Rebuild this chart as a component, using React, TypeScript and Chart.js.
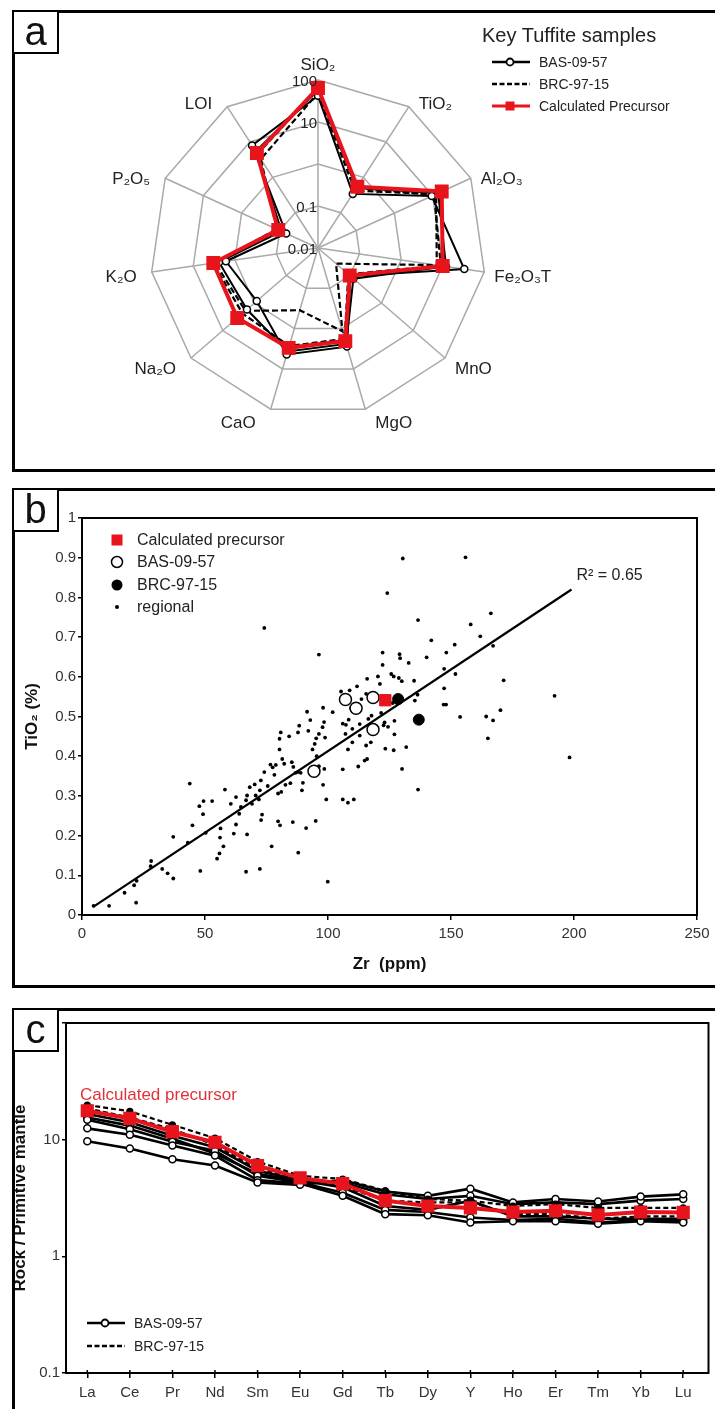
import React, { useEffect, useRef } from "react";
import { Chart, registerables } from "chart.js";
Chart.register(...registerables);

const FONT = "'Liberation Sans', Arial, Helvetica, sans-serif";
Chart.defaults.font.family = FONT;

// ---------- Panel a: radar (wt%, log scale) ----------
const oxides = ["SiO₂", "TiO₂", "Al₂O₃", "Fe₂O₃T", "MnO", "MgO", "CaO", "Na₂O", "K₂O", "P₂O₅", "LOI"];
const radarTicks = [0.01, 0.1, 1, 10, 100];
const radarTickLabels = ["0.01", "0.1", "", "10", "100"];
const precursorOxides = [64.5, 0.54, 17.3, 10, 0.1, 2.04, 3.0, 3.5, 3.3, 0.11, 4.9];
const bas1Oxides = [42, 0.34, 9.5, 33, 0.105, 2.8, 4.4, 0.85, 1.64, 0.068, 8.0];
const bas2Oxides = [56, 0.5, 14, 12, 0.13, 2.4, 3.7, 1.73, 2.4, 0.09, 5.5];
const brc1Oxides = [49, 0.42, 12.4, 7.2, 0.037, 1.17, 0.35, 1.93, 3.0, 0.12, 3.3];
const brc2Oxides = [64, 0.5, 11, 9, 0.09, 1.8, 2.7, 2.4, 3.3, 0.1, 4.6];

// ---------- Panel b: TiO2 vs Zr ----------
const regionalZr = [74.1, 96.3, 130.4, 155.9, 124.1, 136.6, 158, 142, 161.9, 166.2, 151.5, 167.1, 140.1, 122.2, 129.1, 129.3, 132.8, 147.2, 148.1, 151.8, 147.2, 171.4, 192.1, 198.2, 153.7, 164.3, 167.1, 170.1, 165, 147, 148, 136.4, 135.3, 135, 130, 128.8, 126.7, 125.7, 122.2, 115.9, 120.3, 121.1, 111.8, 108.8, 105.3, 121.6, 126.3, 127, 123, 124.4, 122.6, 127, 123.3, 126.7, 131.8, 130.1, 136.6, 117.4, 115.5, 114.9, 115.9, 112.3, 110.5, 108.1, 106, 106, 108.1, 109.9, 112.9, 112.9, 107.3, 106, 108.4, 109.9, 107.1, 109.4, 113.6, 115.5, 116.4, 117.7, 101.9, 98, 98.4, 97.8, 96.3, 98.8, 95.2, 94.6, 93.7, 95.4, 96.3, 98.5, 98, 99.3, 99.9, 95, 91.1, 87.9, 91.5, 92.8, 92, 88.3, 87.8, 84.2, 80.8, 80.3, 80.3, 81.4, 85.3, 82.2, 78.8, 76.6, 77.5, 78.2, 74.1, 72.7, 70.2, 68.2, 75.5, 79.7, 81, 82.7, 84.7, 89.8, 88.9, 86.8, 85.9, 87.7, 72.3, 70.6, 67.1, 66.7, 69.1, 71.9, 73.2, 72.8, 77.1, 72.3, 66.7, 67.1, 61.7, 62.6, 62.6, 58.1, 60.5, 56.3, 56.1, 57.5, 55.9, 54.9, 50.3, 49.4, 52.9, 47.7, 49.2, 43.8, 44.9, 48.1, 43, 37.1, 37.1, 34.8, 32.6, 28.1, 27.9, 22.2, 21.2, 17.3, 11, 4.7, 22, 63.9, 64.6, 79.7, 80.5, 85.7, 89.4];
const regionalTi = [0.723, 0.656, 0.898, 0.901, 0.811, 0.743, 0.732, 0.692, 0.702, 0.76, 0.681, 0.678, 0.649, 0.661, 0.657, 0.647, 0.635, 0.62, 0.661, 0.607, 0.571, 0.591, 0.552, 0.397, 0.499, 0.5, 0.49, 0.516, 0.445, 0.53, 0.53, 0.555, 0.54, 0.59, 0.589, 0.597, 0.601, 0.607, 0.63, 0.595, 0.601, 0.582, 0.576, 0.566, 0.563, 0.509, 0.534, 0.489, 0.485, 0.474, 0.478, 0.455, 0.419, 0.415, 0.423, 0.368, 0.316, 0.435, 0.427, 0.389, 0.393, 0.374, 0.291, 0.283, 0.291, 0.367, 0.417, 0.435, 0.452, 0.481, 0.479, 0.482, 0.492, 0.469, 0.456, 0.521, 0.544, 0.557, 0.494, 0.502, 0.511, 0.522, 0.486, 0.473, 0.456, 0.447, 0.445, 0.431, 0.417, 0.4, 0.375, 0.368, 0.328, 0.291, 0.084, 0.237, 0.219, 0.157, 0.512, 0.491, 0.464, 0.477, 0.46, 0.45, 0.46, 0.444, 0.417, 0.393, 0.385, 0.381, 0.378, 0.379, 0.372, 0.353, 0.36, 0.339, 0.329, 0.322, 0.325, 0.306, 0.31, 0.328, 0.332, 0.333, 0.358, 0.358, 0.373, 0.36, 0.314, 0.301, 0.301, 0.289, 0.28, 0.291, 0.253, 0.239, 0.173, 0.116, 0.109, 0.203, 0.205, 0.228, 0.297, 0.316, 0.28, 0.218, 0.195, 0.173, 0.155, 0.142, 0.207, 0.287, 0.287, 0.274, 0.254, 0.331, 0.226, 0.111, 0.182, 0.197, 0.092, 0.105, 0.116, 0.136, 0.123, 0.086, 0.075, 0.056, 0.023, 0.023, 0.031, 0.255, 0.272, 0.236, 0.226, 0.234, 0.314];
const basZr = [107.1, 111.4, 118.3, 118.3, 94.3];
const basTi = [0.543, 0.521, 0.548, 0.467, 0.362];
const brcZr = [128.5, 136.9];
const brcTi = [0.544, 0.492];
const precZr = [123.3];
const precTi = [0.541];
const trendZr = [4.7, 199];
const trendTi = [0.021, 0.82];
const zrTicks = [0, 50, 100, 150, 200, 250];
const tiTickLabels = ["0", "0.1", "0.2", "0.3", "0.4", "0.5", "0.6", "0.7", "0.8", "0.9", "1"];

// ---------- Panel c: REE spider ----------
const ree = ["La", "Ce", "Pr", "Nd", "Sm", "Eu", "Gd", "Tb", "Dy", "Y", "Ho", "Er", "Tm", "Yb", "Lu"];
const reeTicks = [0.1, 1, 10, 100];
const basA = [9.7, 8.4, 6.8, 6.0, 4.3, 4.1, 4.5, 3.6, 3.3, 3.8, 2.9, 3.1, 2.95, 3.25, 3.4];
const basB = [12.5, 11.0, 8.9, 7.3, 4.5, 4.2, 3.3, 2.3, 2.25, 1.95, 2.0, 2.0, 1.9, 2.0, 1.95];
const basC = [14.8, 12.3, 9.6, 8.05, 4.9, 4.3, 3.5, 2.5, 2.4, 2.15, 2.05, 2.1, 1.95, 2.05, 2.0];
const basD = [16.6, 14.1, 10.8, 8.6, 5.4, 4.5, 3.9, 2.7, 2.5, 3.0, 2.2, 2.2, 2.1, 2.1, 2.1];
const basE = [15.5, 13.2, 10.2, 7.6, 5.1, 4.4, 4.3, 3.4, 3.1, 3.3, 2.8, 2.9, 2.8, 3.0, 3.1];
const brcA = [19.8, 17.5, 13.4, 10.3, 6.5, 4.9, 4.6, 3.65, 3.1, 3.0, 2.7, 2.8, 2.6, 2.6, 2.6];
const brcB = [18.5, 15.5, 12.3, 9.0, 5.6, 4.6, 4.0, 3.0, 2.9, 2.9, 2.3, 2.3, 2.1, 2.2, 2.2];
const precREE = [17.7, 15.2, 11.7, 9.5, 6.0, 4.7, 4.2, 3.0, 2.7, 2.6, 2.4, 2.46, 2.26, 2.4, 2.38];

const RED = "#e8141b";
const GRID = "#a9a9a9";

const radarLabelsPlugin = {
  id: "radarLabels",
  afterDraw(chart: any) {
    const s = chart.scales.r;
    const ctx = chart.ctx;
    ctx.save();
    ctx.fillStyle = "#222";
    ctx.font = `17px ${FONT}`;
    oxides.forEach((lab, i) => {
      const p = s.getPointPosition(i, s.drawingArea);
      const ang = s.getIndexAngle(i);
      const sn = Math.sin(ang);
      const cs = Math.cos(ang);
      if (Math.abs(sn) < 0.05) {
        ctx.textAlign = "center";
        ctx.textBaseline = "bottom";
        ctx.fillText(lab, p.x, p.y - 6);
      } else {
        ctx.textAlign = sn > 0 ? "left" : "right";
        ctx.textBaseline = "middle";
        const dy = cs > 0 ? 4 - 7 * cs : 4 - 11 * cs;
        ctx.fillText(lab, p.x + (sn > 0 ? 10 : -15), p.y + dy);
      }
    });
    ctx.font = `15px ${FONT}`;
    ctx.textAlign = "right";
    ctx.textBaseline = "middle";
    radarTicks.forEach((t, i) => {
      const lab = radarTickLabels[i];
      if (!lab) return;
      const d = s.getDistanceFromCenterForValue(Math.log10(t));
      ctx.fillText(lab, s.xCenter - 1, s.yCenter - d + 2);
    });
    ctx.restore();
  },
};

const frameBPlugin = {
  id: "frameB",
  afterDraw(chart: any) {
    const { ctx, chartArea: a, scales } = chart;
    ctx.save();
    ctx.strokeStyle = "#000";
    ctx.lineWidth = 2;
    ctx.strokeRect(a.left, a.top, a.right - a.left, a.bottom - a.top);
    ctx.fillStyle = "#222";
    ctx.font = `16px ${FONT}`;
    ctx.textAlign = "left";
    ctx.textBaseline = "middle";
    ctx.fillText("R² = 0.65", scales.x.getPixelForValue(201), scales.y.getPixelForValue(0.854));
    ctx.restore();
  },
};

const frameCPlugin = {
  id: "frameC",
  afterDraw(chart: any) {
    const { ctx, chartArea: a, scales } = chart;
    ctx.save();
    ctx.strokeStyle = "#000";
    ctx.lineWidth = 2;
    ctx.strokeRect(a.left, a.top, a.right - a.left + 4, a.bottom - a.top);
    ctx.lineWidth = 1.5;
    ree.forEach((_, i) => {
      const x = scales.x.getPixelForValue(i);
      ctx.beginPath();
      ctx.moveTo(x, a.bottom - 3);
      ctx.lineTo(x, a.bottom);
      ctx.stroke();
    });
    ctx.restore();
  },
};

function useChart(ref: React.RefObject<HTMLCanvasElement>, make: () => any) {
  useEffect(() => {
    if (!ref.current) return;
    const c = new Chart(ref.current, make());
    return () => c.destroy();
  }, []);
}

function RadarChart() {
  const ref = useRef<HTMLCanvasElement>(null);
  useChart(ref, () => {
    const basStyle = {
      borderColor: "#000",
      borderWidth: 2,
      pointRadius: 3.5,
      pointBackgroundColor: "#fff",
      pointBorderColor: "#000",
      pointBorderWidth: 1.5,
      fill: false,
    };
    const brcStyle = { borderColor: "#000", borderWidth: 2.2, borderDash: [6, 3], pointRadius: 0, fill: false };
    return {
      type: "radar",
      data: {
        labels: oxides,
        datasets: [
          {
            label: "Calculated Precursor",
            data: precursorOxides.map(Math.log10),
            borderColor: RED,
            borderWidth: 4,
            pointStyle: "rect",
            pointRadius: 7,
            pointBackgroundColor: RED,
            pointBorderColor: RED,
            fill: false,
          },
          { label: "BAS-09-57", data: bas1Oxides.map(Math.log10), ...basStyle },
          { label: "BAS-09-57 b", data: bas2Oxides.map(Math.log10), ...basStyle },
          { label: "BRC-97-15", data: brc1Oxides.map(Math.log10), ...brcStyle },
          { label: "BRC-97-15 b", data: brc2Oxides.map(Math.log10), ...brcStyle },
        ],
      },
      options: {
        animation: false,
        responsive: false,
        layout: { padding: { left: 150, top: 80, right: 229, bottom: 54 } },
        elements: { line: { tension: 0, borderJoinStyle: "miter" } },
        plugins: { legend: { display: false }, tooltip: { enabled: false } },
        scales: {
          r: {
            min: -2,
            max: 2,
            ticks: { display: false },
            afterBuildTicks: (s: any) => {
              s.ticks = radarTicks.map((v) => ({ value: Math.log10(v) }));
            },
            grid: { color: GRID, lineWidth: 1.5 },
            angleLines: { color: GRID, lineWidth: 1.5 },
            pointLabels: { display: false },
          },
        },
      },
      plugins: [radarLabelsPlugin],
    };
  });
  return <canvas ref={ref} width={715} height={470} style={{ position: "absolute", left: 0, top: 0 }} />;
}

function ScatterChart() {
  const ref = useRef<HTMLCanvasElement>(null);
  useChart(ref, () => {
    const pts = (xs: number[], ys: number[]) => xs.map((x, i) => ({ x, y: ys[i] }));
    const axisTick = { font: { size: 15 }, color: "#333" };
    return {
      type: "scatter",
      data: {
        datasets: [
          { label: "Calculated precursor", data: pts(precZr, precTi), pointStyle: "rect", pointRadius: 8, backgroundColor: RED, borderColor: RED },
          { label: "BRC-97-15", data: pts(brcZr, brcTi), pointRadius: 5.5, backgroundColor: "#000", borderColor: "#000" },
          { label: "BAS-09-57", data: pts(basZr, basTi), pointRadius: 6, backgroundColor: "#fff", borderColor: "#000", borderWidth: 1.5 },
          { type: "line", label: "trend", data: pts(trendZr, trendTi), showLine: true, borderColor: "#000", borderWidth: 2.2, pointRadius: 0, fill: false },
          { label: "regional", data: pts(regionalZr, regionalTi), pointRadius: 1.9, backgroundColor: "#000", borderColor: "#000", borderWidth: 0 },
        ],
      },
      options: {
        animation: false,
        responsive: false,
        layout: { padding: { left: 0, top: 28, right: 18, bottom: 0 } },
        plugins: { legend: { display: false }, tooltip: { enabled: false } },
        scales: {
          x: {
            type: "linear",
            min: 0,
            max: 250,
            afterBuildTicks: (s: any) => {
              s.ticks = zrTicks.map((v) => ({ value: v }));
            },
            ticks: { ...axisTick, padding: 5 },
            grid: { display: true, drawOnChartArea: false, tickLength: 5, color: "#000", lineWidth: 1.5 },
            border: { color: "#000", width: 2 },
            title: { display: true, text: "Zr  (ppm)", font: { size: 17, weight: "bold" }, color: "#111", padding: { top: 0, bottom: 11 } },
            afterFit: (s: any) => {
              s.height = 71;
            },
          },
          y: {
            type: "linear",
            min: 0,
            max: 1,
            ticks: { ...axisTick, stepSize: 0.1, padding: 2, callback: (_v: any, i: number) => tiTickLabels[i] },
            grid: { display: true, drawOnChartArea: false, tickLength: 4, color: "#000", lineWidth: 1.5 },
            border: { color: "#000", width: 2 },
            title: { display: true, text: "TiO₂ (%)", font: { size: 17, weight: "bold" }, color: "#111", padding: { top: 22, bottom: 0 } },
            afterFit: (s: any) => {
              s.width = 82;
            },
          },
        },
      },
      plugins: [frameBPlugin],
    };
  });
  return <canvas ref={ref} width={715} height={496} style={{ position: "absolute", left: 0, top: 490 }} />;
}

function SpiderChart() {
  const ref = useRef<HTMLCanvasElement>(null);
  useChart(ref, () => {
    const basStyle = {
      borderColor: "#000",
      borderWidth: 2.6,
      pointRadius: 3.5,
      pointBackgroundColor: "#fff",
      pointBorderColor: "#000",
      pointBorderWidth: 1.5,
      fill: false,
    };
    const brcStyle = {
      borderColor: "#000",
      borderWidth: 2.2,
      borderDash: [5, 3],
      pointRadius: 2.5,
      pointBackgroundColor: "#000",
      pointBorderColor: "#000",
      fill: false,
    };
    return {
      type: "line",
      data: {
        labels: ree,
        datasets: [
          {
            label: "Calculated precursor",
            data: precREE,
            borderColor: RED,
            borderWidth: 4,
            pointStyle: "rect",
            pointRadius: 6.5,
            pointBackgroundColor: RED,
            pointBorderColor: RED,
            fill: false,
          },
          { label: "BRC-97-15", data: brcA, ...brcStyle },
          { label: "BRC-97-15 b", data: brcB, ...brcStyle },
          { label: "BAS-09-57", data: basA, ...basStyle },
          { label: "BAS-09-57 b", data: basB, ...basStyle },
          { label: "BAS-09-57 c", data: basC, ...basStyle },
          { label: "BAS-09-57 d", data: basD, ...basStyle },
          { label: "BAS-09-57 e", data: basE, ...basStyle },
        ],
      },
      options: {
        animation: false,
        responsive: false,
        layout: { padding: { left: 0, top: 13, right: 0, bottom: 0 } },
        elements: { line: { tension: 0 } },
        plugins: { legend: { display: false }, tooltip: { enabled: false } },
        scales: {
          x: {
            type: "category",
            offset: true,
            ticks: { font: { size: 15 }, color: "#333", padding: 6, autoSkip: false, maxRotation: 0 },
            grid: { display: true, drawOnChartArea: false, tickLength: 5, color: "#000", lineWidth: 1.5, offset: false },
            border: { color: "#000", width: 2 },
            afterFit: (s: any) => {
              s.height = 36;
            },
          },
          y: {
            type: "logarithmic",
            min: 0.1,
            max: 100,
            afterBuildTicks: (s: any) => {
              s.ticks = reeTicks.map((v) => ({ value: v }));
            },
            ticks: { font: { size: 15 }, color: "#333", padding: 2, callback: (v: any) => (v === 100 ? "" : String(v)) },
            grid: { display: true, drawOnChartArea: false, tickLength: 4, color: "#000", lineWidth: 1.5 },
            border: { color: "#000", width: 2 },
            title: { display: true, text: "Rock / Primitive mantle", font: { size: 17, weight: "bold" }, color: "#111", padding: { top: 10, bottom: 0 } },
            afterFit: (s: any) => {
              s.width = 66;
            },
          },
        },
      },
      plugins: [frameCPlugin],
    };
  });
  return <canvas ref={ref} width={715} height={399} style={{ position: "absolute", left: 0, top: 1010 }} />;
}

function Sample({ kind }: { kind: "bas" | "brc" | "red" }) {
  return (
    <svg width="40" height="12" style={{ display: "block" }}>
      {kind === "bas" && (
        <>
          <line x1="1" y1="6" x2="39" y2="6" stroke="#000" strokeWidth="2.6" />
          <circle cx="19" cy="6" r="3.5" fill="#fff" stroke="#000" strokeWidth="1.8" />
        </>
      )}
      {kind === "brc" && <line x1="1" y1="6" x2="39" y2="6" stroke="#000" strokeWidth="2.6" strokeDasharray="5,2.5" />}
      {kind === "red" && (
        <>
          <line x1="1" y1="6" x2="39" y2="6" stroke={RED} strokeWidth="3" />
          <rect x="14.5" y="1.5" width="9" height="9" fill={RED} />
        </>
      )}
    </svg>
  );
}

const txt = (size: number, extra: any = {}) => ({
  position: "absolute" as const,
  fontFamily: FONT,
  fontSize: size,
  lineHeight: `${size + 4}px`,
  color: "#222",
  whiteSpace: "nowrap" as const,
  ...extra,
});

function LegendRow({ top, left, kind, label, size }: any) {
  return (
    <div style={{ position: "absolute", left, top: top - 9, height: 18, display: "flex", alignItems: "center" }}>
      <Sample kind={kind} />
      <span style={{ marginLeft: 8, fontFamily: FONT, fontSize: size, color: "#222", whiteSpace: "nowrap" }}>{label}</span>
    </div>
  );
}

function MarkerRow({ top, marker, label }: any) {
  return (
    <div style={{ position: "absolute", left: 108, top: top - 10, height: 20, display: "flex", alignItems: "center" }}>
      <svg width="18" height="18" style={{ display: "block" }}>
        {marker === "sq" && <rect x="3.5" y="3.5" width="11" height="11" fill={RED} />}
        {marker === "open" && <circle cx="9" cy="9" r="5.5" fill="#fff" stroke="#000" strokeWidth="1.5" />}
        {marker === "fill" && <circle cx="9" cy="9" r="5.5" fill="#000" />}
        {marker === "dot" && <circle cx="9" cy="9" r="2" fill="#000" />}
      </svg>
      <span style={{ marginLeft: 11, fontFamily: FONT, fontSize: 16, color: "#222", whiteSpace: "nowrap" }}>{label}</span>
    </div>
  );
}

const panelBox = (top: number, height: number) => ({
  position: "absolute" as const,
  left: 12,
  top,
  width: 720,
  height,
  border: "3px solid #000",
  boxSizing: "border-box" as const,
  pointerEvents: "none" as const,
});

const letterBox = (top: number) => ({
  position: "absolute" as const,
  left: 12,
  top,
  width: 47,
  height: 44,
  border: "2px solid #000",
  boxSizing: "border-box" as const,
  background: "#fff",
  fontFamily: FONT,
  fontSize: 40,
  lineHeight: "38px",
  textAlign: "center" as const,
  color: "#111",
});

export default function App() {
  return (
    <div style={{ position: "absolute", left: 0, top: 0, width: 715, height: 1409, overflow: "hidden", background: "#fff" }}>
      <RadarChart />
      <ScatterChart />
      <SpiderChart />

      <div style={panelBox(10, 462)} />
      <div style={panelBox(488, 500)} />
      <div style={panelBox(1008, 430)} />

      <div style={letterBox(10)}>a</div>
      <div style={letterBox(488)}>b</div>
      <div style={letterBox(1008)}>c</div>

      {/* Panel a legend */}
      <div style={txt(20, { left: 482, top: 23 })}>Key Tuffite samples</div>
      <LegendRow top={62} left={491} kind="bas" label="BAS-09-57" size={14} />
      <LegendRow top={84} left={491} kind="brc" label="BRC-97-15" size={14} />
      <LegendRow top={106} left={491} kind="red" label="Calculated Precursor" size={14} />

      {/* Panel b legend */}
      <MarkerRow top={540} marker="sq" label="Calculated precursor" />
      <MarkerRow top={562} marker="open" label="BAS-09-57" />
      <MarkerRow top={585} marker="fill" label="BRC-97-15" />
      <MarkerRow top={607} marker="dot" label="regional" />

      {/* Panel c annotations */}
      <div style={txt(17, { left: 80, top: 1084, color: "#e0323a" })}>Calculated precursor</div>
      <LegendRow top={1323} left={86} kind="bas" label="BAS-09-57" size={14} />
      <LegendRow top={1346} left={86} kind="brc" label="BRC-97-15" size={14} />
    </div>
  );
}
